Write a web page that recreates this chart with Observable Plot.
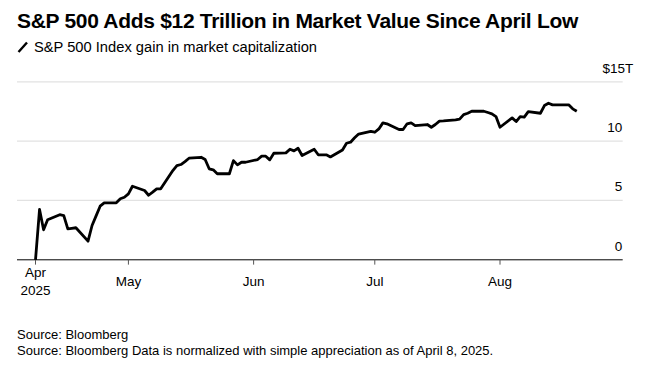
<!DOCTYPE html>
<html>
<head>
<meta charset="utf-8">
<script src="https://cdn.jsdelivr.net/npm/d3@7"></script>
<script src="https://cdn.jsdelivr.net/npm/@observablehq/plot@0.6"></script>
<style>
  body { margin: 0; background: #fff; font-family: "Liberation Sans", Arial, sans-serif; color: #000; }
  #wrap { position: relative; width: 654px; height: 369px; overflow: hidden; }
  #title { position: absolute; left: 17px; top: 9px; font-size: 21px; font-weight: bold; letter-spacing: -0.3px; white-space: nowrap; }
  #subtitle { position: absolute; left: 17px; top: 39px; font-size: 14.7px; white-space: nowrap; }
  #subtitle svg { vertical-align: -1px; margin-right: 6px; }
  #chart { position: absolute; left: 0; top: 60px; }
  #foot { position: absolute; left: 17px; top: 327px; font-size: 13px; line-height: 16px; white-space: nowrap; }
</style>
</head>
<body>
<div id="wrap">
  <div id="title">S&amp;P 500 Adds $12 Trillion in Market Value Since April Low</div>
  <div id="subtitle"><svg width="11" height="12"><line x1="1.5" y1="11" x2="10" y2="1.5" stroke="#000" stroke-width="2.4"/></svg>S&amp;P 500 Index gain in market capitalization</div>
  <div id="chart"></div>
  <div id="foot">Source: Bloomberg<br>Source: Bloomberg Data is normalized with simple appreciation as of April 8, 2025.</div>
</div>
<script>
const dates = [
  "2025-04-08","2025-04-09","2025-04-10","2025-04-11","2025-04-14","2025-04-15","2025-04-16","2025-04-17","2025-04-18",
  "2025-04-21","2025-04-22","2025-04-23","2025-04-24","2025-04-25","2025-04-28","2025-04-29","2025-04-30","2025-05-01","2025-05-02",
  "2025-05-05","2025-05-06","2025-05-07","2025-05-08","2025-05-09","2025-05-12","2025-05-13","2025-05-14","2025-05-15","2025-05-16",
  "2025-05-19","2025-05-20","2025-05-21","2025-05-22","2025-05-23","2025-05-26","2025-05-27","2025-05-28","2025-05-29","2025-05-30",
  "2025-06-02","2025-06-03","2025-06-04","2025-06-05","2025-06-06","2025-06-09","2025-06-10","2025-06-11","2025-06-12","2025-06-13",
  "2025-06-16","2025-06-17","2025-06-18","2025-06-19","2025-06-20","2025-06-23","2025-06-24","2025-06-25","2025-06-26","2025-06-27",
  "2025-06-30","2025-07-01","2025-07-02","2025-07-03","2025-07-04","2025-07-07","2025-07-08","2025-07-09","2025-07-10","2025-07-11",
  "2025-07-14","2025-07-15","2025-07-16","2025-07-17","2025-07-18","2025-07-21","2025-07-22","2025-07-23","2025-07-24","2025-07-25",
  "2025-07-28","2025-07-29","2025-07-30","2025-07-31","2025-08-01","2025-08-04","2025-08-05","2025-08-06","2025-08-07","2025-08-08",
  "2025-08-11","2025-08-12","2025-08-13","2025-08-14","2025-08-15","2025-08-18","2025-08-19","2025-08-20"
];
const values = [
  0, 4.24, 2.53, 3.37, 3.8, 3.73, 2.6, 2.65, 2.7,
  1.57, 2.89, 3.7, 4.52, 4.8, 4.8, 5.14, 5.27, 5.56, 6.2,
  5.84, 5.44, 5.7, 5.98, 5.98, 7.52, 7.94, 8.03, 8.28, 8.56,
  8.64, 8.45, 7.67, 7.58, 7.25, 7.25, 8.36, 8.0, 8.22, 8.22,
  8.45, 8.73, 8.73, 8.42, 8.98, 9.01, 9.32, 9.18, 9.40, 8.79,
  9.32, 8.85, 8.85, 8.85, 8.67, 9.26, 9.82, 9.91, 10.28, 10.6,
  10.83, 10.75, 11.03, 11.54, 11.46, 10.98, 10.98, 11.46, 11.54, 11.31,
  11.4, 11.17, 11.4, 11.68, 11.7, 11.79, 11.85, 12.24, 12.35, 12.52,
  12.52, 12.41, 12.3, 12.07, 11.17, 11.96, 11.65, 12.07, 12.02, 12.49,
  12.35, 13.0, 13.19, 13.06, 13.06, 13.06, 12.72, 12.52
];
const xTickDates = ["2025-04-08","2025-05-01","2025-06-01","2025-07-01","2025-08-01"];
const xTickLabels = ["Apr\n2025","May","Jun","Jul","Aug"];
const yTicks = [0, 5, 10];
const yTickLabels = ["0", "5", "10"];
const yTopTick = 15;
const yTopLabel = "$15T";

const parse = d3.utcParse("%Y-%m-%d");
const data = dates.map((d, i) => ({date: parse(d), value: values[i]}));
const xTicks = xTickDates.map((d, i) => ({date: parse(d), label: xTickLabels[i]}));
const xDomain = [new Date(Date.UTC(2025, 3, 3, 13)), new Date(Date.UTC(2025, 7, 31, 12))];
const xEnd = xDomain[1];
const yLabelData = yTicks.map((v, i) => ({x: xEnd, y: v, label: yTickLabels[i]}));
const yTopData = [{x: xEnd, y: yTopTick, label: yTopLabel}];

const chart = Plot.plot({
  width: 654,
  height: 250,
  marginLeft: 17,
  marginRight: 31.3,
  marginTop: 21.3,
  marginBottom: 50.7,
  style: {fontFamily: '"Liberation Sans", Arial, sans-serif', fontSize: "13px", color: "#000", background: "#fff"},
  x: {type: "utc", domain: xDomain, axis: null},
  y: {type: "linear", domain: [0, 15], axis: null},
  marks: [
    Plot.ruleY([5, 10, 15], {stroke: "#e2e2e2", strokeWidth: 1.2}),
    Plot.ruleY([0], {stroke: "#000", strokeWidth: 1}),
    Plot.ruleX(xTicks, {x: "date", y1: 0, y2: -0.45, stroke: "#555", strokeWidth: 1}),
    Plot.text(xTicks, {x: "date", y: 0, text: "label", dy: 20, lineAnchor: "middle", lineHeight: 1.35, fill: "#000", fontSize: 13.5}),
    Plot.text(yLabelData, {x: "x", y: "y", text: "label", textAnchor: "end", dx: -1, dy: -13.5, fill: "#000", fontSize: 13.5}),
    Plot.text(yTopData, {x: "x", y: "y", text: "label", textAnchor: "end", dx: 10, dy: -13.5, fill: "#000", fontSize: 13.5}),
    Plot.lineY(data, {x: "date", y: "value", stroke: "#000", strokeWidth: 2.8, strokeLinejoin: "round", strokeLinecap: "butt"})
  ]
});
document.getElementById("chart").appendChild(chart);
</script>
</body>
</html>
